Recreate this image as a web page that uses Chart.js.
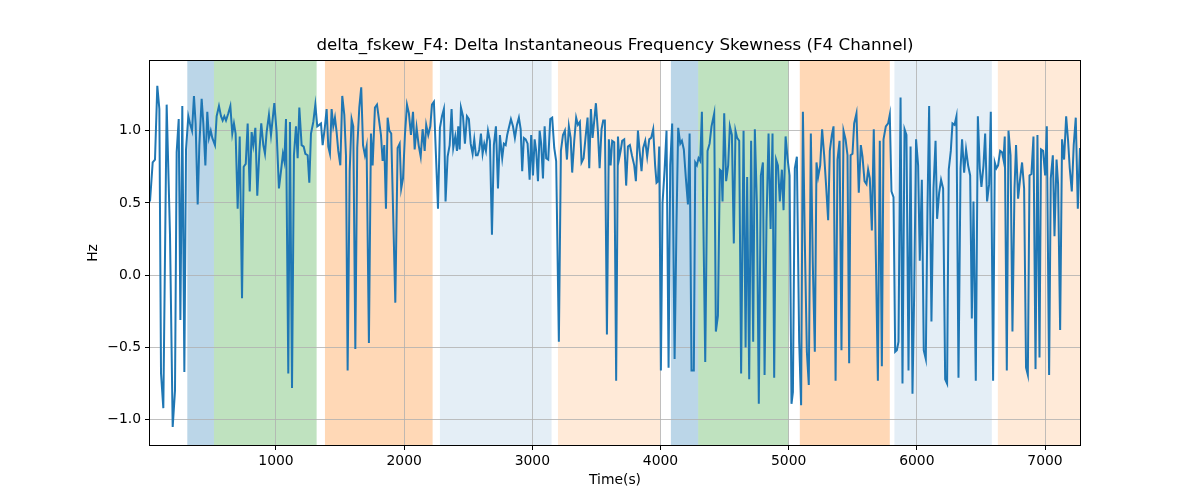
<!DOCTYPE html>
<html>
<head>
<meta charset="utf-8">
<script src="https://cdn.jsdelivr.net/npm/chart.js@4.4.1/dist/chart.umd.min.js"></script>
<style>
  body { margin: 0; background: #fff; }
  #wrap { width: 1200px; height: 500px; }
</style>
</head>
<body>
<div id="wrap"><canvas id="chart" width="1200" height="500"></canvas></div>
<script>
// ===== Data =====
const chartTitle = 'delta_fskew_F4: Delta Instantaneous Frequency Skewness (F4 Channel)';

const times = [
  17, 38, 56, 74, 90, 103, 121, 147, 173, 194, 212, 225, 241, 254, 269, 285, 298, 316, 329, 345,
  360, 373, 389, 402, 420, 433, 449, 464, 477, 491, 503, 524, 537, 555, 571, 584, 597, 610, 628, 644,
  659, 672, 685, 701, 717, 735, 748, 764, 779, 795, 810, 823, 839, 854, 870, 885, 901, 914, 927, 945,
  961, 987, 1005, 1023, 1039, 1054, 1065, 1078, 1096, 1109, 1125, 1140, 1156, 1169, 1182,
  1200, 1216, 1229, 1247, 1260, 1273, 1291, 1307, 1322, 1338, 1351, 1364, 1382, 1395, 1408, 1421, 1434, 1447, 1460, 1473,
  1486, 1502, 1517, 1533, 1546, 1559, 1575, 1590, 1603, 1619, 1634, 1650, 1665, 1679, 1694, 1707, 1725, 1741, 1754, 1772,
  1788, 1803, 1819, 1832, 1845,
  1858, 1871, 1884, 1899, 1931, 1949, 1965, 1977, 1991, 2006, 2022, 2037, 2053, 2069, 2082, 2097, 2113, 2129, 2144, 2160,
  2172, 2188, 2204, 2217, 2232, 2248, 2264, 2279, 2295, 2310, 2323, 2339, 2355, 2370, 2383, 2399, 2412, 2422, 2433, 2443,
  2459, 2474, 2490, 2505, 2519, 2534, 2547, 2560, 2573, 2586, 2599, 2612, 2625, 2638, 2654, 2669, 2685, 2700, 2716, 2732,
  2747, 2757,
  2765, 2778, 2792, 2804, 2817, 2833, 2849, 2864, 2880, 2895, 2909, 2921, 2934, 2948, 2963, 2979, 2991, 3005, 3018, 3030,
  3044, 3057, 3069, 3083, 3096, 3108, 3124, 3140, 3155, 3171, 3186, 3207, 3223, 3239, 3254, 3270, 3285, 3299, 3311, 3327,
  3342, 3356, 3371, 3384, 3400, 3416, 3431, 3444, 3457, 3470, 3480, 3496, 3512, 3525, 3540, 3553, 3566, 3582, 3597, 3611,
  3623, 3639, 3654, 3668,
  3678, 3689, 3701, 3717, 3732, 3746, 3761, 3777, 3795, 3808, 3824, 3837, 3852, 3865, 3881, 3896, 3912, 3927, 3943, 3958,
  3969, 3980, 3990, 4003, 4016, 4032, 4047, 4063, 4076, 4091, 4110, 4125, 4138, 4154, 4167, 4182, 4198, 4214, 4227, 4242,
  4260, 4271, 4284, 4297, 4310, 4323, 4349, 4367, 4383, 4398, 4419, 4432, 4448, 4463, 4476, 4484, 4497, 4512, 4528, 4541,
  4557, 4572,
  4585, 4598, 4614, 4629, 4648, 4664, 4676, 4692, 4707, 4723, 4736, 4752, 4767, 4783, 4799, 4812, 4827, 4843, 4859, 4874,
  4887, 4902, 4916, 4931, 4947, 4960, 4976, 4991, 5007, 5022, 5033, 5048, 5064, 5082, 5097, 5111, 5126, 5142, 5157, 5173,
  5188, 5204, 5217, 5230, 5246, 5261, 5277, 5292, 5308, 5321, 5337, 5350, 5366, 5381, 5397, 5412, 5428, 5444, 5459, 5472,
  5483,
  5498, 5511, 5529, 5547, 5563, 5576, 5592, 5607, 5620, 5633, 5649, 5664, 5680, 5696, 5711, 5727, 5740, 5758, 5776, 5789,
  5802, 5818, 5831, 5844, 5857, 5873, 5888, 5904, 5919, 5935, 5951, 5966, 5979, 5994, 6010, 6023, 6039, 6054, 6070, 6083,
  6096, 6114, 6130, 6146, 6158, 6174, 6189, 6205, 6221, 6236, 6249, 6265, 6278, 6294, 6309, 6325, 6341, 6353, 6369, 6384,
  6400,
  6416, 6429, 6442, 6460, 6476, 6491, 6504, 6520, 6533, 6548, 6564, 6577, 6595, 6608, 6621, 6634, 6650, 6665, 6676, 6686,
  6702, 6715, 6731, 6746, 6762, 6774, 6790, 6806, 6821, 6837, 6852, 6866, 6879, 6894, 6910, 6926, 6941, 6957, 6969, 6985,
  7001, 7014, 7032, 7045, 7061, 7074, 7090, 7102, 7118, 7133, 7149, 7165, 7180, 7193, 7209, 7224, 7240, 7256, 7273,
];

const values = [
  0.51, 0.78, 0.80, 1.31, 1.15, -0.68, -0.92, 1.18, 0.28, -1.05, -0.80, 0.85, 1.08, -0.31, 1.17, -0.67, 0.87, 1.10, 1.05, 1.00,
  1.24, 1.05, 0.49, 0.90, 1.22, 1.05, 0.76, 1.13, 0.95, 1.00, 0.95, 0.90, 1.10, 1.17, 1.10, 1.07, 1.10, 1.07, 1.12, 1.17,
  0.98, 1.05, 0.98, 0.46, 0.96, -0.16, 0.75, 0.77, 1.05, 0.58, 0.99, 0.90, 1.02, 0.55, 0.85, 1.05, 0.90, 0.84, 0.99, 1.11,
  0.97, 1.19, 0.99, 0.60, 0.72, 0.84, 0.79, 1.08, -0.68, 1.06, -0.78, 0.83, 1.03, 0.81, 1.16,
  0.90, 0.89, 0.84, 0.83, 0.64, 0.98, 1.06, 1.18, 1.03, 1.04, 1.05, 0.90, 1.03, 1.15, 0.89, 0.84, 1.15, 1.03, 1.09, 0.99,
  0.86, 0.76, 1.24, 1.11, 0.83, -0.66, 0.72, 1.08, 1.03, -0.51, 0.88, 1.16, 1.30, 0.90, 0.83, 0.89, -0.47, 0.98, 0.76, 1.16,
  1.18, 1.08, 0.97, 0.79, 0.90,
  0.46, 1.09, 1.00, 0.98, -0.19, 0.88, 0.91, 0.60, 0.67, 0.97, 1.18, 1.12, 0.97, 1.13, 0.87, 1.02, 0.90, 0.82, 1.01, 0.86,
  1.04, 0.97, 1.03, 1.18, 1.20, 0.83, 0.46, 1.02, 1.10, 1.15, 0.51, 0.82, 0.90, 1.15, 0.88, 0.96, 0.86, 1.03, 0.87, 1.16,
  1.10, 0.91, 1.10, 1.08, 0.91, 0.84, 0.94, 0.83, 0.83, 0.87, 0.98, 0.84, 0.91, 0.86, 1.00, 0.93, 0.28, 0.90, 1.03, 0.60,
  0.97, 0.88,
  0.81, 0.91, 0.90, 0.97, 1.02, 1.08, 1.03, 0.95, 1.04, 1.09, 1.01, 0.72, 0.95, 0.94, 0.91, 0.66, 0.97, 0.69, 0.94, 0.86,
  0.65, 1.00, 0.91, 0.67, 1.03, 0.81, 0.80, 1.08, 1.09, 0.88, 0.79, -0.46, 0.86, 0.97, 1.00, 0.80, 1.03, 0.95, 0.71, 0.93,
  1.09, 1.04, 1.06, 0.78, 0.81, 0.96, 1.09, 0.74, 1.15, 0.95, 1.04, 1.19, 0.99, 0.74, 1.01, 1.07, 1.07, -0.41, 0.94, 0.76,
  0.93, 0.92, -0.73, 0.96,
  0.81, 0.86, 0.93, 0.94, 0.62, 0.89, 0.90, 0.83, 0.76, 0.65, 1.00, 0.86, 0.72, 0.88, 0.93, 0.82, 0.94, 0.95, 1.01, 0.76,
  0.64, 0.65, 0.89, -0.66, 0.50, 0.73, 1.00, -0.64, 0.76, 1.05, -0.58, 0.37, 1.02, 0.91, 0.93, 0.87, 0.67, 0.49, 0.98, -0.66,
  -0.66, 0.78, 0.76, 0.81, 0.79, 1.13, -0.60, 0.86, 0.91, 1.03, 1.12, -0.39, -0.28, 0.73, 0.72, 0.51, 1.12, 0.65, 0.76, 1.03,
  0.97, 0.22,
  1.00, 0.95, 0.93, -0.68, 1.00, -0.50, 0.68, -0.72, 0.93, -0.46, 1.01, 0.49, -0.89, 0.69, 0.78, -0.69, 0.37, 0.98, 0.32, 0.98,
  -0.71, 0.80, 0.76, 0.51, 0.73, 0.45, 0.96, 0.81, 0.69, -0.89, -0.81, 0.74, 0.82, -0.46, -0.90, 1.13, 0.23, -0.53, -0.76, 0.98,
  0.09, -0.53, 0.78, 0.68, 0.76, 1.01, 0.83, 0.62, 0.38, 0.86, 0.97, 1.03, -0.73, 0.80, 0.93, -0.52, 1.00, 0.94, 0.83, -0.61,
  0.83,
  0.84, 1.05, 1.12, 0.57, 0.90, 0.82, 0.65, 0.63, 0.73, 0.67, 0.31, 1.01, 0.14, -0.73, 0.93, -0.63, 0.94, 1.03, 1.05, 1.11,
  0.58, 0.54, -0.53, -0.52, -0.46, 1.23, -0.75, 1.01, 0.97, -0.66, 0.89, -0.82, -0.14, 0.94, 0.76, 0.10, 0.66, -0.52, -0.58, 0.46,
  1.17, -0.32, 0.60, 0.93, 0.39, 0.57, 0.66, 0.60, -0.72, -0.75, 0.73, 0.86, 1.05, 1.04, 1.10, -0.71, 0.74, 0.94, 0.71, 0.87,
  0.76,
  0.69, -0.30, 0.51, -0.73, 1.10, 0.74, 0.61, 0.76, 0.98, 0.51, 0.63, 1.13, -0.73, 0.78, 0.74, 0.76, 0.86, 0.85, 0.80, 0.96,
  -0.66, 1.00, 0.83, -0.39, 0.60, 0.90, 0.53, 0.67, 0.78, 0.60, -0.64, -0.69, 0.69, 0.70, 0.96, -0.65, 0.97, -0.57, 0.87, 0.86,
  0.69, 1.03, -0.69, 0.67, 0.83, 0.27, 0.80, 0.63, -0.38, 0.94, 0.80, 1.10, 0.93, 0.74, 0.58, 0.90, 1.09, 0.46, 0.88,
];

// shaded segments (time ranges)
const bandStarts = [308, 516, 1382, 2279, 3200, 4081, 4294, 5087, 5825, 6632];
const bandEnds = [516, 1317, 2222, 3150, 3998, 4294, 5001, 5789, 6585, 7400];
const bandColors = [
  'rgba(31, 119, 180, 0.3)',
  'rgba(44, 160, 44, 0.3)',
  'rgba(255, 127, 14, 0.3)',
  'rgba(31, 119, 180, 0.12)',
  'rgba(255, 127, 14, 0.16)',
  'rgba(31, 119, 180, 0.3)',
  'rgba(44, 160, 44, 0.3)',
  'rgba(255, 127, 14, 0.3)',
  'rgba(31, 119, 180, 0.12)',
  'rgba(255, 127, 14, 0.16)',
];

const xTickValues = [1000, 2000, 3000, 4000, 5000, 6000, 7000];
const yTickValues = [-1.0, -0.5, 0.0, 0.5, 1.0];
const xMin = 17;
const xMax = 7273;
const yMin = -1.175;
const yMax = 1.482;

const FONT_FAMILY = "'DejaVu Sans', sans-serif";

// ===== Plugins =====
const bandPlugin = {
  id: 'bands',
  beforeDraw(chart) {
    const { ctx, chartArea, scales } = chart;
    ctx.save();
    ctx.fillStyle = '#ffffff';
    ctx.fillRect(0, 0, chart.width, chart.height);
    ctx.beginPath();
    ctx.rect(chartArea.left, chartArea.top, chartArea.right - chartArea.left, chartArea.bottom - chartArea.top);
    ctx.clip();
    bandStarts.forEach((start, i) => {
      const x0 = scales.x.getPixelForValue(start);
      const x1 = scales.x.getPixelForValue(bandEnds[i]);
      ctx.fillStyle = bandColors[i];
      ctx.fillRect(x0, chartArea.top, x1 - x0, chartArea.bottom - chartArea.top);
    });
    ctx.restore();
  },
};

const framePlugin = {
  id: 'frame',
  afterDatasetsDraw(chart) {
    const { ctx, chartArea } = chart;
    ctx.save();
    ctx.strokeStyle = '#000000';
    ctx.lineWidth = 1;
    ctx.strokeRect(chartArea.left - 0.5, chartArea.top - 0.5,
      chartArea.right - chartArea.left + 1, chartArea.bottom - chartArea.top + 1);
    ctx.fillStyle = '#000000';
    ctx.font = `16.7px ${FONT_FAMILY}`;
    ctx.textAlign = 'center';
    ctx.textBaseline = 'middle';
    ctx.fillText(chartTitle, (chartArea.left + chartArea.right) / 2, 46);
    ctx.restore();
  },
};

// ===== Chart =====
const tickFont = { family: FONT_FAMILY, size: 13.9 };

new Chart(document.getElementById('chart'), {
  type: 'line',
  data: {
    datasets: [{
      data: times.map((t, i) => ({ x: t, y: values[i] })),
      borderColor: '#1f77b4',
      borderWidth: 2,
      pointRadius: 0,
      tension: 0,
      fill: false,
    }],
  },
  options: {
    responsive: false,
    animation: false,
    devicePixelRatio: 1,
    layout: { padding: { left: 0, right: 120, top: 61, bottom: 0 } },
    plugins: {
      legend: { display: false },
      tooltip: { enabled: false },
    },
    scales: {
      x: {
        type: 'linear',
        min: xMin,
        max: xMax,
        afterFit(scale) { scale.height = 55; },
        afterBuildTicks(scale) { scale.ticks = xTickValues.map((v) => ({ value: v })); },
        grid: { color: '#b0b0b0', lineWidth: 0.8, tickColor: '#000', tickLength: 5, tickWidth: 1 },
        border: { display: false },
        ticks: {
          color: '#000',
          font: tickFont,
          padding: 3,
          maxRotation: 0,
          autoSkip: false,
          callback: (v) => String(v),
        },
        title: {
          display: true,
          text: 'Time(s)',
          color: '#000',
          font: tickFont,
          padding: { top: 0, bottom: 11 },
        },
      },
      y: {
        type: 'linear',
        min: yMin,
        max: yMax,
        afterFit(scale) { scale.width = 150; },
        afterBuildTicks(scale) { scale.ticks = yTickValues.map((v) => ({ value: v })); },
        grid: { color: '#b0b0b0', lineWidth: 0.8, tickColor: '#000', tickLength: 5, tickWidth: 1 },
        border: { display: false },
        ticks: {
          color: '#000',
          font: tickFont,
          padding: 4,
          callback: (v) => (v < 0 ? '\u2212' : '') + Math.abs(v).toFixed(1),
        },
        title: {
          display: true,
          text: 'Hz',
          color: '#000',
          font: tickFont,
          padding: { top: 85, bottom: 0 },
        },
      },
    },
  },
  plugins: [bandPlugin, framePlugin],
});
</script>
</body>
</html>
